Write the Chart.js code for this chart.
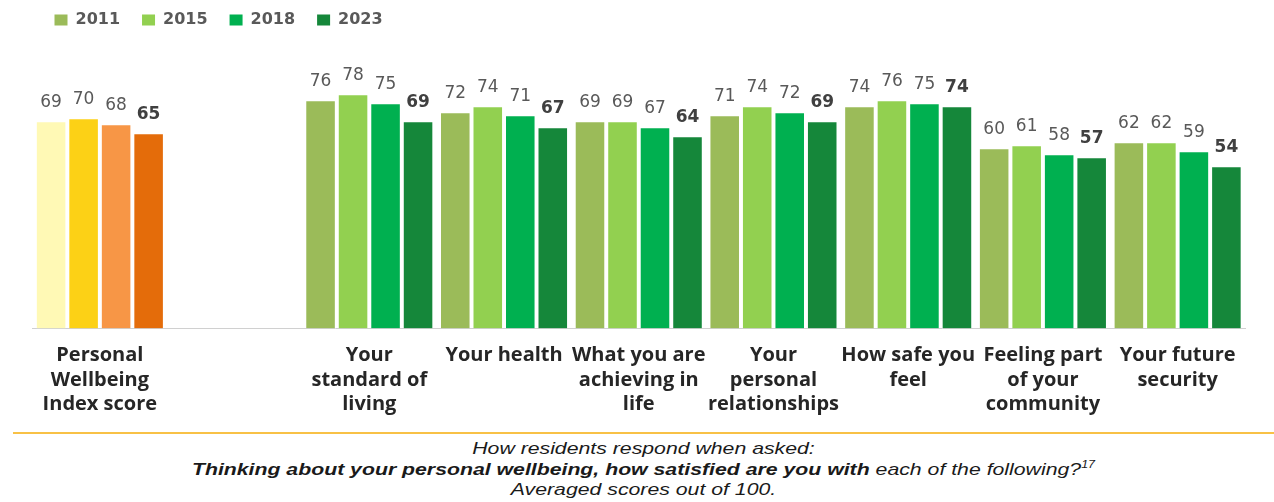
<!DOCTYPE html>
<html>
<head>
<meta charset="utf-8">
<title>Personal wellbeing</title>
<script src="https://cdn.jsdelivr.net/npm/chart.js@4.4.1/dist/chart.umd.min.js"></script>
<style>
  html, body { margin: 0; padding: 0; background: #fff; }
  #wrap { position: relative; width: 1274px; height: 502px; overflow: hidden; }
  #chartBox { position: absolute; left: 0; top: 0; width: 1274px; height: 432px; }
  #footer { position: absolute; left: 13px; right: 0; top: 432px; border-top: 2px solid #F8C146; }
  #footer .txt {
    padding-top: 5px;
    text-align: center;
    font: italic 17px "Liberation Sans", Arial, sans-serif;
    line-height: 20.5px;
    color: #1a1a1a;
    transform: scaleX(1.25);
    transform-origin: center top;
  }
  #footer sup { font-size: 10px; line-height: 0; }
</style>
</head>
<body>
<div id="wrap">
  <div id="chartBox"><canvas id="wellbeing"></canvas></div>
  <div id="footer">
    <div class="txt">
      How residents respond when asked:<br>
      <b>Thinking about your personal wellbeing, how satisfied are you with</b> each of the following?<sup>17</sup><br>
      Averaged scores out of 100.
    </div>
  </div>
</div>
<script>
// Survey years shown in the legend
const years = ['2011', '2015', '2018', '2023'];

// Category labels (index 1 is an empty spacer slot)
const categories = [
  ['Personal', 'Wellbeing', 'Index score'],
  '',
  ['Your', 'standard of', 'living'],
  'Your health',
  ['What you are', 'achieving in', 'life'],
  ['Your', 'personal', 'relationships'],
  ['How safe you', 'feel'],
  ['Feeling part', 'of your', 'community'],
  ['Your future', 'security'],
];

// Averaged scores out of 100
const scores2011 = [69, null, 76, 72, 69, 71, 74, 60, 62];
const scores2015 = [70, null, 78, 74, 69, 74, 76, 61, 62];
const scores2018 = [68, null, 75, 71, 67, 72, 75, 58, 59];
const scores2023 = [65, null, 69, 67, 64, 69, 74, 57, 54];

// Index score bars use yellows/oranges, the rest use greens
const indexColors = ['#FFF9B5', '#FCD116', '#F79646', '#E46C0A'];
const yearColors = ['#9BBB59', '#92D050', '#00B050', '#15873A'];

const seriesValues = [scores2011, scores2015, scores2018, scores2023];

// Draw the value above each bar, latest year in bold
const valueLabels = {
  id: 'valueLabels',
  afterDatasetsDraw(chart) {
    const { ctx } = chart;
    const last = chart.data.datasets.length - 1;
    ctx.save();
    ctx.textAlign = 'center';
    ctx.textBaseline = 'middle';
    chart.data.datasets.forEach((ds, i) => {
      const meta = chart.getDatasetMeta(i);
      ctx.font = (i === last ? 'bold ' : '') + '17px "DejaVu Sans", Verdana, sans-serif';
      ctx.fillStyle = i === last ? '#404040' : '#595959';
      meta.data.forEach((bar, j) => {
        const v = ds.data[j];
        if (v == null) return;
        ctx.fillText(String(v), bar.x, bar.y - 19);
      });
    });
    ctx.restore();
  },
};

const datasets = years.map((year, i) => ({
  label: year,
  data: seriesValues[i],
  backgroundColor: (c) => (c.type === 'data' && c.dataIndex === 0 ? indexColors[i] : yearColors[i]),
  borderColor: 'rgba(255,255,255,0.45)',
  borderWidth: 1,
  barPercentage: 0.94,
  categoryPercentage: 0.965,
}));

new Chart(document.getElementById('wellbeing'), {
  type: 'bar',
  data: { labels: categories, datasets },
  plugins: [valueLabels],
  options: {
    responsive: true,
    maintainAspectRatio: false,
    animation: false,
    layout: { padding: { top: -10, left: 32.5, right: 29, bottom: 0 } },
    scales: {
      x: {
        grid: { display: false, drawTicks: false },
        border: { display: true, color: '#d0d0d0', dash: [2, 2] },
        ticks: {
          autoSkip: false,
          maxRotation: 0,
          padding: 15,
          color: '#262626',
          font: { family: '"Open Sans", sans-serif', size: 20, weight: 'bold', lineHeight: '24.5px' },
        },
      },
      y: {
        display: false,
        min: 0,
        max: 96.7,
      },
    },
    plugins: {
      legend: {
        position: 'top',
        align: 'start',
        labels: {
          boxWidth: 13,
          boxHeight: 11,
          padding: 22,
          color: '#595959',
          font: { family: '"DejaVu Sans", Verdana, sans-serif', size: 16, weight: 'bold' },
          generateLabels: (chart) =>
            Chart.defaults.plugins.legend.labels.generateLabels(chart).map((item, i) => ({
              ...item,
              fillStyle: yearColors[i],
              strokeStyle: yearColors[i],
              lineWidth: 0,
            })),
        },
      },
      tooltip: { enabled: false },
    },
  },
});
</script>
</body>
</html>
